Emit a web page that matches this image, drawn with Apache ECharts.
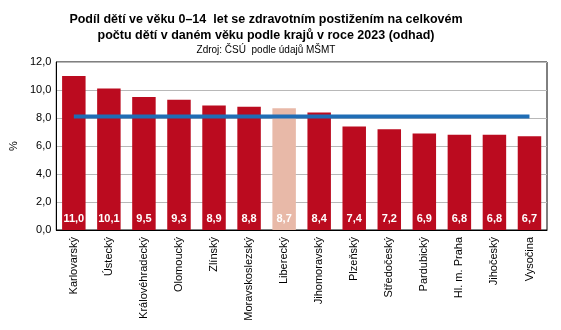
<!DOCTYPE html>
<html><head><meta charset="utf-8">
<script src="https://cdn.jsdelivr.net/npm/echarts@6/dist/echarts.min.js"></script>
<style>html,body{margin:0;padding:0;background:#fff}#c{width:561px;height:330px}</style>
</head><body><div id="c"></div>
<script>
const categories = ["Karlovarský","Ústecký","Královéhradecký","Olomoucký","Zlínský","Moravskoslezský","Liberecký","Jihomoravský","Plzeňský","Středočeský","Pardubický","Hl. m. Praha","Jihočeský","Vysočina"];
const values = [11.0,10.1,9.5,9.3,8.9,8.8,8.7,8.4,7.4,7.2,6.9,6.8,6.8,6.7];
const averageLine = [8.1,8.1,8.1,8.1,8.1,8.1,8.1,8.1,8.1,8.1,8.1,8.1,8.1,8.1];
const highlighted = "Liberecký";
const yTicks = {min:0, max:12, interval:2};

const FONT = "'Liberation Sans', Arial, sans-serif";
const chart = echarts.init(document.getElementById('c'), null, {renderer:'canvas'});
chart.setOption({
  animation:false,
  title:[
    {text:"Podíl dětí ve věku 0–14  let se zdravotním postižením na celkovém\npočtu dětí v daném věku podle krajů v roce 2023 (odhad)",
     left:261, top:7, textAlign:'center',
     textStyle:{fontFamily:FONT, fontSize:12.5, fontWeight:'bold', color:'#000', lineHeight:16}},
    {text:"Zdroj: ČSÚ  podle údajů MŠMT", left:261, top:40, textAlign:'center',
     textStyle:{fontFamily:FONT, fontSize:10, fontWeight:'normal', color:'#000'}}
  ],
  grid:{left:53, top:62, right:14, bottom:100, show:true, borderColor:'#000', borderWidth:1},
  xAxis:{type:'category', data:categories, boundaryGap:true,
    axisLine:{lineStyle:{color:'#000'}}, axisTick:{show:false},
    axisLabel:{rotate:90, interval:0, margin:7, fontFamily:FONT, fontSize:11, color:'#000'}},
  yAxis:{type:'value', min:yTicks.min, max:yTicks.max, interval:yTicks.interval,
    name:'%', nameLocation:'middle', nameGap:33, nameRotate:90,
    nameTextStyle:{fontFamily:FONT, fontSize:11, color:'#000'},
    axisLine:{show:true, lineStyle:{color:'#000'}}, axisTick:{show:false},
    splitLine:{lineStyle:{color:'#b8b8b8', width:1}},
    axisLabel:{fontFamily:FONT, fontSize:11, color:'#000', margin:5,
      formatter:v=>v.toFixed(1).replace('.',',')}},
  series:[
    {type:'bar', barWidth:'67%',
     data:values.map((v,i)=>({value:v, itemStyle:{color: categories[i]===highlighted ? '#e8b9a8' : '#bb0b1f'}})),
     label:{show:true, position:'insideBottom', distance:6, color:'#fff', fontFamily:FONT, fontSize:11, fontWeight:'bold',
       formatter:p=>p.value.toFixed(1).replace('.',',')}},
    {type:'line', data:averageLine, symbol:'none', lineStyle:{color:'#1f6db5', width:4}, z:5}
  ]
});
</script></body></html>
